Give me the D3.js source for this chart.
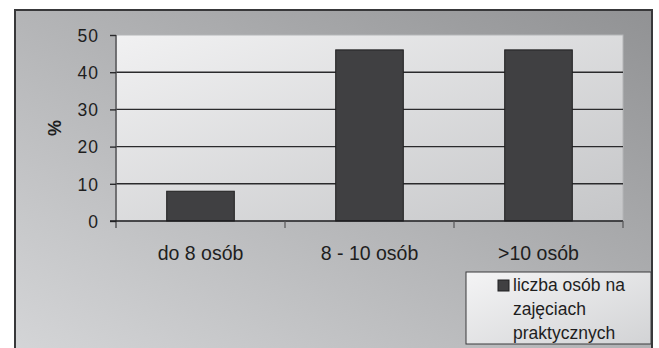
<!DOCTYPE html>
<html>
<head>
<meta charset="utf-8">
<script src="https://cdn.jsdelivr.net/npm/d3@7"></script>
<style>
  html, body { margin: 0; padding: 0; background: #ffffff; }
  svg { display: block; }
  text { font-family: "Liberation Sans", Arial, sans-serif; fill: #1e1e1e; }
</style>
</head>
<body>
<svg id="chart" width="659" height="348"></svg>
<script>
// Share of practical classes by group size
const categories = ["do 8 osób", "8 - 10 osób", ">10 osób"];
const values = [8, 46, 46];
const yTicks = [0, 10, 20, 30, 40, 50];
const seriesName = ["liczba osób na", "zajęciach", "praktycznych"];
const yTitle = "%";

const svg = d3.select("#chart");
const defs = svg.append("defs");

const outerGrad = defs.append("linearGradient").attr("id", "outerFill")
  .attr("x1", 0).attr("y1", 1).attr("x2", 1).attr("y2", 0);
outerGrad.append("stop").attr("offset", "0%").attr("stop-color", "#d6d7d9");
outerGrad.append("stop").attr("offset", "100%").attr("stop-color", "#919294");

const plotGrad = defs.append("linearGradient").attr("id", "plotFill")
  .attr("x1", 0).attr("y1", 0).attr("x2", 1).attr("y2", 1);
plotGrad.append("stop").attr("offset", "0%").attr("stop-color", "#f1f1f2");
plotGrad.append("stop").attr("offset", "100%").attr("stop-color", "#c5c6c8");

const legendGrad = defs.append("linearGradient").attr("id", "legendFill")
  .attr("x1", 0).attr("y1", 0).attr("x2", 1).attr("y2", 1);
legendGrad.append("stop").attr("offset", "0%").attr("stop-color", "#f4f4f5");
legendGrad.append("stop").attr("offset", "100%").attr("stop-color", "#d2d3d5");

// Chart area
svg.append("rect")
  .attr("x", 15).attr("y", 10).attr("width", 637).attr("height", 360)
  .attr("fill", "url(#outerFill)")
  .attr("stroke", "#38383a").attr("stroke-width", 2);

const plot = { left: 116, right: 623, top: 35, bottom: 221 };

const x = d3.scaleBand()
  .domain(categories)
  .range([plot.left, plot.right])
  .paddingInner(0.6)
  .paddingOuter(0.3);

const y = d3.scaleLinear().domain([0, 50]).range([plot.bottom, plot.top]);

// Plot area
svg.append("rect")
  .attr("x", plot.left).attr("y", plot.top)
  .attr("width", plot.right - plot.left).attr("height", plot.bottom - plot.top)
  .attr("fill", "url(#plotFill)")
  .attr("stroke", "#b4b5b7").attr("stroke-width", 1);

// Gridlines
svg.append("g").selectAll("line")
  .data(yTicks.filter(t => t > 0 && t < 50))
  .join("line")
  .attr("x1", plot.left).attr("x2", plot.right)
  .attr("y1", d => y(d)).attr("y2", d => y(d))
  .attr("stroke", "#2a2a2c").attr("stroke-width", 1.4);

// Bars
svg.append("g").selectAll("rect")
  .data(values)
  .join("rect")
  .attr("x", (d, i) => x(categories[i]))
  .attr("y", d => y(d))
  .attr("width", x.bandwidth())
  .attr("height", d => y(0) - y(d))
  .attr("fill", "#404042")
  .attr("stroke", "#1f1f20").attr("stroke-width", 1);

// Y axis
const yAxis = svg.append("g")
  .attr("transform", `translate(${plot.left},0)`)
  .call(d3.axisLeft(y).tickValues(yTicks).tickSize(6).tickPadding(11).tickSizeOuter(0));
yAxis.select(".domain").attr("stroke", "#555557").attr("stroke-width", 1.5)
  .attr("d", `M0,${plot.top}V${plot.bottom + 7}`);
yAxis.selectAll(".tick line").attr("stroke", "#2a2a2c").attr("stroke-width", 1.4);
yAxis.selectAll(".tick text")
  .attr("font-size", 17.5).attr("fill", "#1e1e1e")
  .attr("letter-spacing", 1)
  .attr("dy", "0.36em")
  .style("font-family", "'Liberation Sans', Arial, sans-serif");

// X axis with category separators
const xAxisG = svg.append("g");
xAxisG.append("line")
  .attr("x1", plot.left - 6).attr("x2", plot.right)
  .attr("y1", plot.bottom).attr("y2", plot.bottom)
  .attr("stroke", "#1e1e20").attr("stroke-width", 1.5);
const step = x.step();
const bounds = categories.map((c, i) => x(c) - x.paddingInner() * step / 2 + step);
xAxisG.selectAll("line.sep")
  .data(bounds)
  .join("line").attr("class", "sep")
  .attr("x1", d => d).attr("x2", d => d)
  .attr("y1", plot.bottom).attr("y2", plot.bottom + 7)
  .attr("stroke", "#555557").attr("stroke-width", 1.2);
xAxisG.selectAll("text")
  .data(categories)
  .join("text")
  .attr("x", d => x(d) + x.bandwidth() / 2)
  .attr("y", 260)
  .attr("text-anchor", "middle")
  .attr("font-size", 19.5)
  .text(d => d);

// Y axis title
svg.append("text")
  .attr("transform", "translate(61,128) rotate(-90)")
  .attr("text-anchor", "middle")
  .attr("font-size", 18)
  .attr("font-weight", "bold")
  .text(yTitle);

// Legend
const legend = svg.append("g");
legend.append("rect")
  .attr("x", 466).attr("y", 272).attr("width", 185).attr("height", 72)
  .attr("fill", "url(#legendFill)")
  .attr("stroke", "#3a3a3c").attr("stroke-width", 1);
legend.append("rect")
  .attr("x", 498).attr("y", 280).attr("width", 11).attr("height", 11)
  .attr("fill", "#404042").attr("stroke", "#1f1f20").attr("stroke-width", 1);
legend.selectAll("text.item")
  .data(seriesName)
  .join("text").attr("class", "item")
  .attr("x", 513)
  .attr("y", (d, i) => 291 + i * 24)
  .attr("font-size", 17.5)
  .text(d => d);
</script>
</body>
</html>
